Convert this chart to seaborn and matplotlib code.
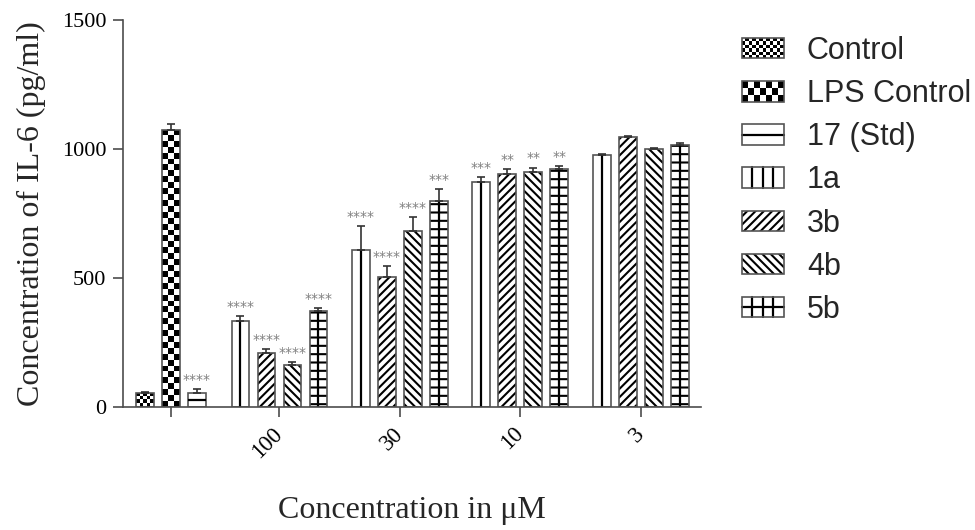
import numpy as np
import pandas as pd
import matplotlib
matplotlib.use("Agg")
import matplotlib.pyplot as plt
import matplotlib.colors as mcolors
import seaborn as sns
from matplotlib.patches import Rectangle
from matplotlib.lines import Line2D
from matplotlib.legend_handler import HandlerBase

# ---- data -----------------------------------------------------------------
control_names = ["Control", "LPS Control", "17 (Std)"]
control_means = [55, 1075, 55]
control_errs = [5, 20, 15]
control_stars = ["", "", "****"]

concentrations = ["100", "30", "10", "3"]
compounds = ["1a", "3b", "4b", "5b"]

means_1a = [335, 608, 871, 977]
errs_1a = [17, 93, 19, 3]
stars_1a = ["****", "****", "***", ""]

means_3b = [210, 505, 905, 1048]
errs_3b = [15, 41, 16, 3]
stars_3b = ["****", "****", "**", ""]

means_4b = [163, 682, 912, 999]
errs_4b = [13, 53, 16, 3]
stars_4b = ["****", "****", "**", ""]

means_5b = [373, 798, 921, 1016]
errs_5b = [10, 46, 14, 7]
stars_5b = ["****", "***", "**", ""]

series_order = control_names + compounds

# ---- styling ----------------------------------------------------------------
sns.set_style("ticks")
plt.rcParams["font.family"] = ["Liberation Serif", "DejaVu Serif"]
plt.rcParams["hatch.linewidth"] = 1.5
plt.rcParams["axes.edgecolor"] = "#4d4d4d"
plt.rcParams["xtick.color"] = "#4d4d4d"
plt.rcParams["ytick.color"] = "#4d4d4d"
plt.rcParams["xtick.labelcolor"] = "black"
plt.rcParams["ytick.labelcolor"] = "black"

EDGE = "#555555"
INK = "black"
TEX_LW = 1.6

# fill textures per series
hatches = {"3b": "////", "4b": "\\\\\\\\", "5b": "--"}
center_vline = {"1a", "5b"}          # one vertical rule through the bar middle
center_hline = {"17 (Std)"}          # one horizontal rule at half height
checker_cell_px = {"Control": 3.3, "LPS Control": 5.9}

# legend keys: ("checker", cols, rows) / ("grid", cols, rows) / hatch string
legend_keys = {
    "Control": ("checker", 12, 6),
    "LPS Control": ("checker", 7, 3),
    "17 (Std)": ("grid", 1, 2),
    "1a": ("grid", 4, 1),
    "3b": "////",
    "4b": "\\\\\\\\",
    "5b": ("grid", 4, 2),
}

# ---- long-form table with bar positions --------------------------------------
rows = []
for i, name in enumerate(control_names):
    rows.append(dict(pos=i - 1.0, value=control_means[i], err=control_errs[i],
                     stars=control_stars[i], series=name))

group_centers = [4.17 + 4.63 * g for g in range(len(concentrations))]
per_compound = {
    "1a": (means_1a, errs_1a, stars_1a),
    "3b": (means_3b, errs_3b, stars_3b),
    "4b": (means_4b, errs_4b, stars_4b),
    "5b": (means_5b, errs_5b, stars_5b),
}
for g, center in enumerate(group_centers):
    for k, comp in enumerate(compounds):
        m, e, s = per_compound[comp]
        rows.append(dict(pos=round(center + (k - 1.5), 4), value=m[g], err=e[g],
                         stars=s[g], series=comp))
df = pd.DataFrame(rows)

# ---- figure -----------------------------------------------------------------
fig = plt.figure(figsize=(9.75, 5.3), dpi=100)
ax = fig.add_axes([123 / 975, 123 / 530, 578 / 975, 387 / 530])

BAR_W = 0.68
sns.barplot(data=df, x="pos", y="value", hue="series", hue_order=series_order,
            palette=["white"] * len(series_order), saturation=1,
            native_scale=True, dodge=False, width=BAR_W, errorbar=None,
            edgecolor=EDGE, linewidth=1.2, legend=False, ax=ax)


def black_hatch(patch):
    if hasattr(patch, "set_hatchcolor"):
        patch.set_hatchcolor(INK)
    else:
        patch._hatch_color = mcolors.to_rgba(INK)


XLIM = (-1.846, 20.38)
YLIM = (0, 1500)
ax.set_xlim(*XLIM)
ax.set_ylim(*YLIM)

checker_patches = []
for p in list(ax.patches):
    cx = p.get_x() + p.get_width() / 2
    name = df.iloc[(df["pos"] - cx).abs().argmin()]["series"]
    if name in hatches:
        p.set_hatch(hatches[name])
        black_hatch(p)
    elif name in checker_cell_px:
        checker_patches.append((p, checker_cell_px[name]))

# checkerboard fills, clipped to the bar outlines
for p, cell in checker_patches:
    x0, y0, w, h = p.get_x(), p.get_y(), p.get_width(), p.get_height()
    (px0, py0), (px1, py1) = ax.transData.transform([(x0, y0), (x0 + w, y0 + h)])
    ncols = max(1, int(round((px1 - px0) / cell)))
    nrows = max(1, int(round((py1 - py0) / cell)))
    board = (np.add.outer(np.arange(nrows), np.arange(ncols)) % 2).astype(float)
    im = ax.imshow(board, cmap="gray", vmin=0, vmax=1, extent=(x0, x0 + w, y0, y0 + h),
                   aspect="auto", interpolation="nearest", zorder=p.get_zorder() - 0.01)
    im.set_clip_path(p)
    p.set_facecolor("none")

# single rules inside the 1a / 5b / 17 (Std) bars
vl = df[df["series"].isin(center_vline)]
ax.vlines(vl["pos"], 0, vl["value"], colors=INK, linewidth=TEX_LW, zorder=1.5)
hl = df[df["series"].isin(center_hline)]
ax.hlines(hl["value"] / 2, hl["pos"] - BAR_W / 2, hl["pos"] + BAR_W / 2,
          colors=INK, linewidth=TEX_LW, zorder=1.5)

# upper error bars
ax.errorbar(df["pos"], df["value"], yerr=[np.zeros(len(df)), df["err"]], fmt="none",
            ecolor="#333333", elinewidth=1.2, capsize=3, capthick=1.2, zorder=3)

# significance stars
for _, r in df.iterrows():
    if r["stars"]:
        ax.annotate(r["stars"], xy=(r["pos"], r["value"] + r["err"]), xytext=(0, 1.5),
                    textcoords="offset points", ha="center", va="bottom",
                    fontsize=10, color="#7f7f7f", family="DejaVu Sans")

ax.set_xlim(*XLIM)
ax.set_ylim(*YLIM)
sns.despine(ax=ax)

ax.set_yticks([0, 500, 1000, 1500])
ax.tick_params(axis="y", labelsize=16, length=7, width=1.2, pad=5)
ax.set_xticks([0.0] + group_centers)
ax.set_xticklabels([""] + concentrations, rotation=45, ha="right", va="center",
                   rotation_mode="anchor")
ax.tick_params(axis="x", labelsize=16.5, length=7, width=1.2, pad=10)
for s in ("left", "bottom"):
    ax.spines[s].set_linewidth(1.2)

ax.set_ylabel("Concentration of IL-6 (pg/ml)", fontsize=23)
ax.set_xlabel("Concentration in \u03bcM", fontsize=23)
ax.yaxis.set_label_coords(-0.133, 0.5)
ax.xaxis.set_label_coords(0.5, -0.23)


# ---- legend -----------------------------------------------------------------
class PatternKey:
    def __init__(self, kind, ncols, nrows):
        self.kind = kind
        self.ncols = ncols
        self.nrows = nrows


class HandlerPattern(HandlerBase):
    def create_artists(self, legend, orig_handle, xdescent, ydescent, width, height,
                       fontsize, trans):
        x0, y0 = -xdescent, -ydescent
        nc, nr = orig_handle.ncols, orig_handle.nrows
        cw, ch = width / nc, height / nr
        arts = [Rectangle((x0, y0), width, height, facecolor="white",
                          edgecolor="none", transform=trans)]
        if orig_handle.kind == "checker":
            for i in range(nr):
                for j in range(nc):
                    if (i + j) % 2 == 0:
                        arts.append(Rectangle((x0 + j * cw, y0 + i * ch), cw, ch,
                                              facecolor=INK, edgecolor="none",
                                              transform=trans))
        else:
            for j in range(1, nc):
                arts.append(Line2D([x0 + j * cw] * 2, [y0, y0 + height], color=INK,
                                   linewidth=TEX_LW, transform=trans))
            for i in range(1, nr):
                arts.append(Line2D([x0, x0 + width], [y0 + i * ch] * 2, color=INK,
                                   linewidth=TEX_LW, transform=trans))
        arts.append(Rectangle((x0, y0), width, height, facecolor="none",
                              edgecolor=EDGE, linewidth=1.2, transform=trans))
        return arts


handles = []
for name in series_order:
    key = legend_keys[name]
    if isinstance(key, tuple):
        handles.append(PatternKey(*key))
    else:
        r = Rectangle((0, 0), 1, 1, facecolor="white", edgecolor=EDGE, linewidth=1.2,
                      hatch=key)
        black_hatch(r)
        handles.append(r)

ax.legend(handles, series_order, handler_map={PatternKey: HandlerPattern()},
          loc="upper left", bbox_to_anchor=(742 / 975, 1 - 36 / 530),
          bbox_transform=fig.transFigure, frameon=False,
          prop={"family": "Liberation Sans", "size": 22},
          handlelength=1.37, handleheight=0.65, handletextpad=0.75,
          labelspacing=0.43, borderpad=0, borderaxespad=0)

fig.savefig("out.png", dpi=100)
